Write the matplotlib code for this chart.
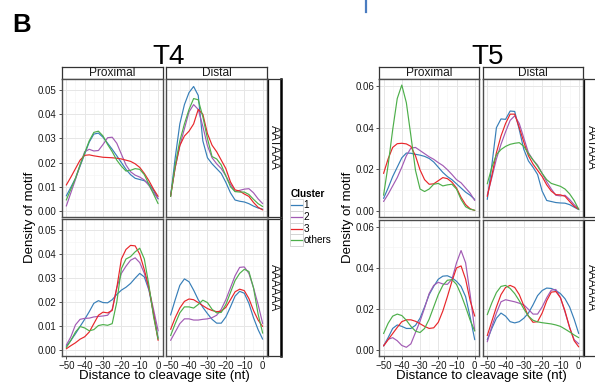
import matplotlib
matplotlib.use("Agg")
import matplotlib.pyplot as plt
from matplotlib.lines import Line2D
from matplotlib.patches import Rectangle
from matplotlib.ticker import MultipleLocator, FormatStrFormatter

plt.rcParams['font.family'] = ['Liberation Sans', 'DejaVu Sans']

# ---------------------------------------------------------------- data
positions = [-50, -47.5, -45, -42.5, -40, -37.5, -35, -32.5, -30, -27.5, -25,
             -22.5, -20, -17.5, -15, -12.5, -10, -7.5, -5, -2.5, 0]

clusters = ["1", "2", "3", "others"]
cluster_colors = ["#377eb8", "#a25bb4", "#e8262a", "#4daf4a"]

locations = ["Proximal", "Distal"]
motifs = ["AATAAA", "AAAAAA"]

# T4 densities
t4_prox_aataaa = {
    "1": [0.0062, 0.0098, 0.0135, 0.0185, 0.0235, 0.0285, 0.0318, 0.0322, 0.0305, 0.028, 0.0255,
          0.0228, 0.02, 0.0172, 0.015, 0.0135, 0.013, 0.0125, 0.0112, 0.0085, 0.005],
    "2": [0.002, 0.0075, 0.013, 0.019, 0.0245, 0.0255, 0.0248, 0.025, 0.0275, 0.0303, 0.0305,
          0.028, 0.0235, 0.019, 0.0162, 0.0148, 0.014, 0.0128, 0.0105, 0.0075, 0.005],
    "3": [0.0107, 0.014, 0.0175, 0.021, 0.023, 0.0232, 0.0228, 0.0225, 0.0222, 0.0221, 0.022,
          0.0218, 0.0215, 0.021, 0.0205, 0.0195, 0.018, 0.0155, 0.0125, 0.009, 0.006],
    "others": [0.0045, 0.009, 0.0135, 0.019, 0.024, 0.029, 0.0325, 0.033, 0.031, 0.0275, 0.0245,
               0.021, 0.0185, 0.0165, 0.0168, 0.0175, 0.0172, 0.015, 0.011, 0.007, 0.003],
}
t4_dist_aataaa = {
    "1": [0.006, 0.022, 0.036, 0.044, 0.049, 0.0515, 0.0478, 0.029, 0.022, 0.0195, 0.0175,
          0.0155, 0.0118, 0.0075, 0.0045, 0.004, 0.0037, 0.003, 0.002, 0.0012, 0.0007],
    "2": [0.0066, 0.018, 0.027, 0.034, 0.041, 0.044, 0.042, 0.035, 0.027, 0.022, 0.0195,
          0.0175, 0.0145, 0.011, 0.008, 0.0085, 0.009, 0.0092, 0.0075, 0.005, 0.003],
    "3": [0.006, 0.018, 0.027, 0.031, 0.033, 0.036, 0.042, 0.040, 0.032, 0.0272, 0.0245,
          0.021, 0.0175, 0.012, 0.0087, 0.0082, 0.007, 0.006, 0.0035, 0.0015, 0.0004],
    "others": [0.006, 0.019, 0.029, 0.036, 0.042, 0.0465, 0.046, 0.039, 0.03, 0.0225, 0.0215,
               0.019, 0.0145, 0.010, 0.008, 0.0078, 0.0078, 0.0068, 0.0048, 0.003, 0.0018],
}
t4_prox_aaaaaa = {
    "1": [0.0015, 0.004, 0.0068, 0.0098, 0.0128, 0.016, 0.0195, 0.0206, 0.0198, 0.0197, 0.021,
          0.0232, 0.025, 0.0262, 0.0278, 0.030, 0.032, 0.0305, 0.025, 0.0155, 0.005],
    "2": [0.002, 0.0055, 0.0105, 0.0128, 0.0132, 0.0133, 0.0138, 0.014, 0.0142, 0.0145, 0.017,
          0.026, 0.032, 0.035, 0.0375, 0.0385, 0.0365, 0.032, 0.0255, 0.017, 0.008],
    "3": [0.0005, 0.0018, 0.003, 0.0045, 0.0055, 0.0075, 0.011, 0.0145, 0.0158, 0.0155, 0.0165,
          0.026, 0.038, 0.042, 0.0437, 0.0435, 0.040, 0.0335, 0.026, 0.015, 0.004],
    "others": [0.001, 0.004, 0.0075, 0.0098, 0.0092, 0.008, 0.0085, 0.0102, 0.0106, 0.0103, 0.011,
               0.02, 0.034, 0.038, 0.039, 0.041, 0.0425, 0.038, 0.027, 0.014, 0.0045],
}
t4_dist_aaaaaa = {
    "1": [0.0146, 0.021, 0.027, 0.0297, 0.0285, 0.025, 0.021, 0.0178, 0.0152, 0.0128, 0.0112,
          0.0112, 0.0138, 0.018, 0.0225, 0.0245, 0.0237, 0.0195, 0.0135, 0.0085, 0.0045],
    "2": [0.004, 0.0075, 0.011, 0.013, 0.013, 0.0125, 0.0125, 0.0128, 0.013, 0.0135, 0.0145,
          0.017, 0.021, 0.026, 0.031, 0.0345, 0.0347, 0.032, 0.026, 0.019, 0.011],
    "3": [0.0086, 0.0135, 0.0175, 0.0203, 0.0213, 0.021, 0.0198, 0.0185, 0.0173, 0.0165, 0.016,
          0.0162, 0.0178, 0.021, 0.0243, 0.0254, 0.0248, 0.0215, 0.0165, 0.0125, 0.0098],
    "others": [0.006, 0.011, 0.0155, 0.018, 0.018, 0.0175, 0.019, 0.0208, 0.0198, 0.017, 0.0155,
               0.0157, 0.019, 0.024, 0.029, 0.032, 0.0337, 0.0328, 0.026, 0.015, 0.007],
}

# T5 densities
t5_prox_aataaa = {
    "1": [0.006, 0.011, 0.0165, 0.021, 0.0255, 0.0278, 0.0277, 0.0272, 0.0268, 0.0262, 0.0252,
          0.0235, 0.021, 0.0185, 0.0165, 0.015, 0.013, 0.011, 0.009, 0.0075, 0.0055],
    "2": [0.0045, 0.008, 0.012, 0.016, 0.021, 0.0265, 0.0302, 0.0305, 0.029, 0.0275, 0.026,
          0.0248, 0.0232, 0.0218, 0.0198, 0.0175, 0.015, 0.0135, 0.011, 0.0085, 0.005],
    "3": [0.018, 0.025, 0.0305, 0.0323, 0.0325, 0.0322, 0.031, 0.0265, 0.0197, 0.015, 0.0128,
          0.013, 0.0145, 0.016, 0.0155, 0.0138, 0.011, 0.0065, 0.003, 0.001, 0.0002],
    "others": [0.0075, 0.022, 0.039, 0.054, 0.0605, 0.052, 0.036, 0.0195, 0.0105, 0.0093, 0.0105,
               0.0128, 0.0132, 0.012, 0.0125, 0.0128, 0.0105, 0.0055, 0.002, 0.0008, 0.0003],
}
t5_dist_aataaa = {
    "1": [0.0055, 0.022, 0.040, 0.0442, 0.044, 0.048, 0.0478, 0.039, 0.0295, 0.024, 0.021,
          0.0175, 0.0095, 0.005, 0.0045, 0.004, 0.0038, 0.0037, 0.003, 0.0018, 0.0006],
    "2": [0.0075, 0.016, 0.025, 0.032, 0.038, 0.0435, 0.0457, 0.042, 0.035, 0.028, 0.0245,
          0.022, 0.018, 0.014, 0.0105, 0.0075, 0.0072, 0.0075, 0.0055, 0.003, 0.001],
    "3": [0.0069, 0.017, 0.028, 0.036, 0.042, 0.0465, 0.0465, 0.040, 0.033, 0.0265, 0.0225,
          0.0195, 0.0165, 0.0125, 0.0095, 0.0078, 0.0077, 0.007, 0.0045, 0.0022, 0.0008],
    "others": [0.013, 0.021, 0.027, 0.0295, 0.031, 0.032, 0.0325, 0.0328, 0.031, 0.0275, 0.0245,
               0.0215, 0.018, 0.015, 0.0132, 0.0125, 0.0118, 0.0105, 0.0082, 0.005, 0.0007],
}
t5_prox_aaaaaa = {
    "1": [0.002, 0.006, 0.0105, 0.0122, 0.0115, 0.0105, 0.0105, 0.012, 0.0155, 0.021, 0.027,
          0.031, 0.0345, 0.036, 0.0362, 0.0352, 0.0335, 0.031, 0.026, 0.016, 0.005],
    "2": [0.002, 0.0052, 0.006, 0.0045, 0.0022, 0.0013, 0.003, 0.0085, 0.014, 0.0205, 0.0275,
          0.0315, 0.033, 0.0322, 0.032, 0.0345, 0.0425, 0.0485, 0.0425, 0.027, 0.0095],
    "3": [0.002, 0.005, 0.008, 0.011, 0.0138, 0.0147, 0.0147, 0.014, 0.0128, 0.0115, 0.0105,
          0.0108, 0.0135, 0.019, 0.026, 0.0335, 0.040, 0.041, 0.0345, 0.024, 0.0165],
    "others": [0.008, 0.013, 0.0165, 0.0175, 0.0168, 0.0145, 0.0115, 0.0092, 0.0085, 0.0105, 0.015,
               0.021, 0.027, 0.0315, 0.034, 0.0343, 0.032, 0.027, 0.021, 0.0145, 0.0092],
}
t5_dist_aaaaaa = {
    "1": [0.005, 0.0105, 0.0155, 0.018, 0.0165, 0.0138, 0.0132, 0.0138, 0.0155, 0.018, 0.022,
          0.0265, 0.029, 0.0302, 0.030, 0.029, 0.0275, 0.025, 0.021, 0.015, 0.008],
    "2": [0.004, 0.0115, 0.018, 0.0235, 0.0245, 0.024, 0.0235, 0.0228, 0.022, 0.0198, 0.0175,
          0.0175, 0.021, 0.0255, 0.0292, 0.0295, 0.0255, 0.0185, 0.011, 0.005, 0.003],
    "3": [0.007, 0.014, 0.021, 0.027, 0.0305, 0.0315, 0.0305, 0.027, 0.0215, 0.0165, 0.0135,
          0.0138, 0.018, 0.024, 0.0282, 0.0285, 0.0255, 0.019, 0.011, 0.0045, 0.0015],
    "others": [0.0172, 0.023, 0.028, 0.031, 0.0315, 0.030, 0.0275, 0.024, 0.02, 0.0165, 0.0145,
               0.0137, 0.0133, 0.013, 0.0127, 0.0122, 0.0115, 0.0102, 0.0088, 0.0073, 0.006],
}

x_ticks = [-50, -40, -30, -20, -10, 0]

# ---------------------------------------------------------------- figure
W, H = 595, 388
fig = plt.figure(figsize=(W / 100, H / 100), dpi=100)
fig.patch.set_facecolor("white")


def frac(x0, y0, x1, y1):
    """Pixel box (top-left origin) -> figure fraction rect."""
    return [x0 / W, 1 - y1 / H, (x1 - x0) / W, (y1 - y0) / H]


def fx(x):
    return x / W


def fy(y):
    return 1 - y / H


BORDER = "#4d4d4d"
STRIP_EDGE = "#333333"
TICK_SIZE = 7.0
STRIP_SIZE = 8.6
TITLE_SIZE = 9.5


def strip(box, label, rotation=0, thick_right=False):
    ax = fig.add_axes(frac(*box))
    ax.set_xticks([])
    ax.set_yticks([])
    ax.set_facecolor("white")
    for sp in ax.spines.values():
        sp.set_color(STRIP_EDGE)
        sp.set_linewidth(0.9)
    if thick_right:
        ax.spines["right"].set_linewidth(1.8)
        ax.spines["right"].set_color("black")
        ax.spines["left"].set_color("black")
    ax.text(0.5, 0.5, label, transform=ax.transAxes, ha="center", va="center",
            fontsize=STRIP_SIZE, rotation=rotation, color="#1a1a1a")
    return ax


def block(title, title_x, cols, rows, strip_x, data, ylim, ystep, yminor):
    fig.text(fx(title_x), fy(63.5), title, fontsize=20, ha="center", va="baseline")
    for ci, loc in enumerate(locations):
        strip((cols[ci][0], 66.7, cols[ci][1], 79), loc)
    for ri, motif in enumerate(motifs):
        strip((strip_x[0], rows[ri][0], strip_x[1], rows[ri][1]), motif,
              rotation=-90, thick_right=True)
        for ci, loc in enumerate(locations):
            ax = fig.add_axes(frac(cols[ci][0], rows[ri][0], cols[ci][1], rows[ri][1]))
            ax.set_facecolor("white")
            ax.set_xlim(-52.5, 2.5)
            ax.set_ylim(*ylim)
            ax.xaxis.set_major_locator(MultipleLocator(10))
            ax.xaxis.set_minor_locator(MultipleLocator(5))
            ax.yaxis.set_major_locator(MultipleLocator(ystep))
            ax.yaxis.set_minor_locator(MultipleLocator(yminor))
            ax.yaxis.set_major_formatter(FormatStrFormatter("%.2f"))
            ax.set_xticks(x_ticks)
            ax.grid(which="major", color="#e6e6e6", lw=0.7)
            ax.grid(which="minor", color="#f3f3f3", lw=0.4)
            ax.set_axisbelow(True)
            for sp in ax.spines.values():
                sp.set_color(BORDER)
                sp.set_linewidth(1.0)
            ax.tick_params(which="major", length=2.5, width=0.6, color="#333333",
                           labelsize=TICK_SIZE, pad=1.0, labelcolor="#1a1a1a")
            ax.tick_params(which="minor", length=0)
            if ci != 0:
                ax.tick_params(axis="y", which="both", length=0, labelleft=False)
            if ri != len(motifs) - 1:
                ax.tick_params(axis="x", which="both", length=0, labelbottom=False)
            series = data[(loc, motif)]
            for cl, col in zip(clusters, cluster_colors):
                ax.plot(positions, series[cl], color=col, lw=0.85,
                        solid_joinstyle="round", solid_capstyle="round")
    xmid = (cols[0][0] + cols[1][1]) / 2
    fig.text(fx(xmid), fy(375.5), "Distance to cleavage site (nt)", fontsize=TITLE_SIZE,
             ha="center", va="center")


t4_data = {("Proximal", "AATAAA"): t4_prox_aataaa, ("Distal", "AATAAA"): t4_dist_aataaa,
           ("Proximal", "AAAAAA"): t4_prox_aaaaaa, ("Distal", "AAAAAA"): t4_dist_aaaaaa}
t5_data = {("Proximal", "AATAAA"): t5_prox_aataaa, ("Distal", "AATAAA"): t5_dist_aataaa,
           ("Proximal", "AAAAAA"): t5_prox_aaaaaa, ("Distal", "AAAAAA"): t5_dist_aaaaaa}

block("T4", 169, [(61.7, 162.7), (166, 267.3)], [(79, 216.7), (219.3, 355.7)],
      (268.3, 280.5), t4_data, (-0.0024, 0.0546), 0.01, 0.005)
block("T5", 488, [(379, 479.3), (482.7, 583.3)], [(79, 216.7), (220, 355.7)],
      (584.3, 597), t5_data, (-0.0028, 0.0634), 0.02, 0.01)

# y-axis titles
for xpos in (29.5, 347.5):
    fig.text(fx(xpos), fy(217.5), "Density of motif", fontsize=TITLE_SIZE, rotation=90,
             ha="center", va="center")

# panel letter
fig.text(fx(12.5), fy(31.7), "B", fontsize=18.5, fontweight="bold", ha="left",
         va="baseline")

# small blue rule at the top
fig.add_artist(Line2D([fx(366), fx(366)], [fy(0), fy(11.5)], color="#4a7cc0", lw=1.6))

# legend
fig.text(fx(290.5), fy(194), "Cluster", fontsize=7.2, fontweight="bold",
         ha="left", va="center")
for i, (cl, col) in enumerate(zip(clusters, cluster_colors)):
    yc = 205.2 + i * 11.7
    fig.add_artist(Rectangle((fx(289.5), fy(yc + 5.85)), (302.5 - 289.5) / W, 11.7 / H,
                             transform=fig.transFigure, facecolor="white",
                             edgecolor="#d0d0d0", lw=0.6))
    fig.add_artist(Line2D([fx(290.5), fx(301.5)], [fy(yc), fy(yc)], color=col, lw=0.9))
    fig.text(fx(303.5), fy(yc), cl, fontsize=7.2, ha="left", va="center")

fig.savefig("out.png", dpi=100, facecolor="white")
